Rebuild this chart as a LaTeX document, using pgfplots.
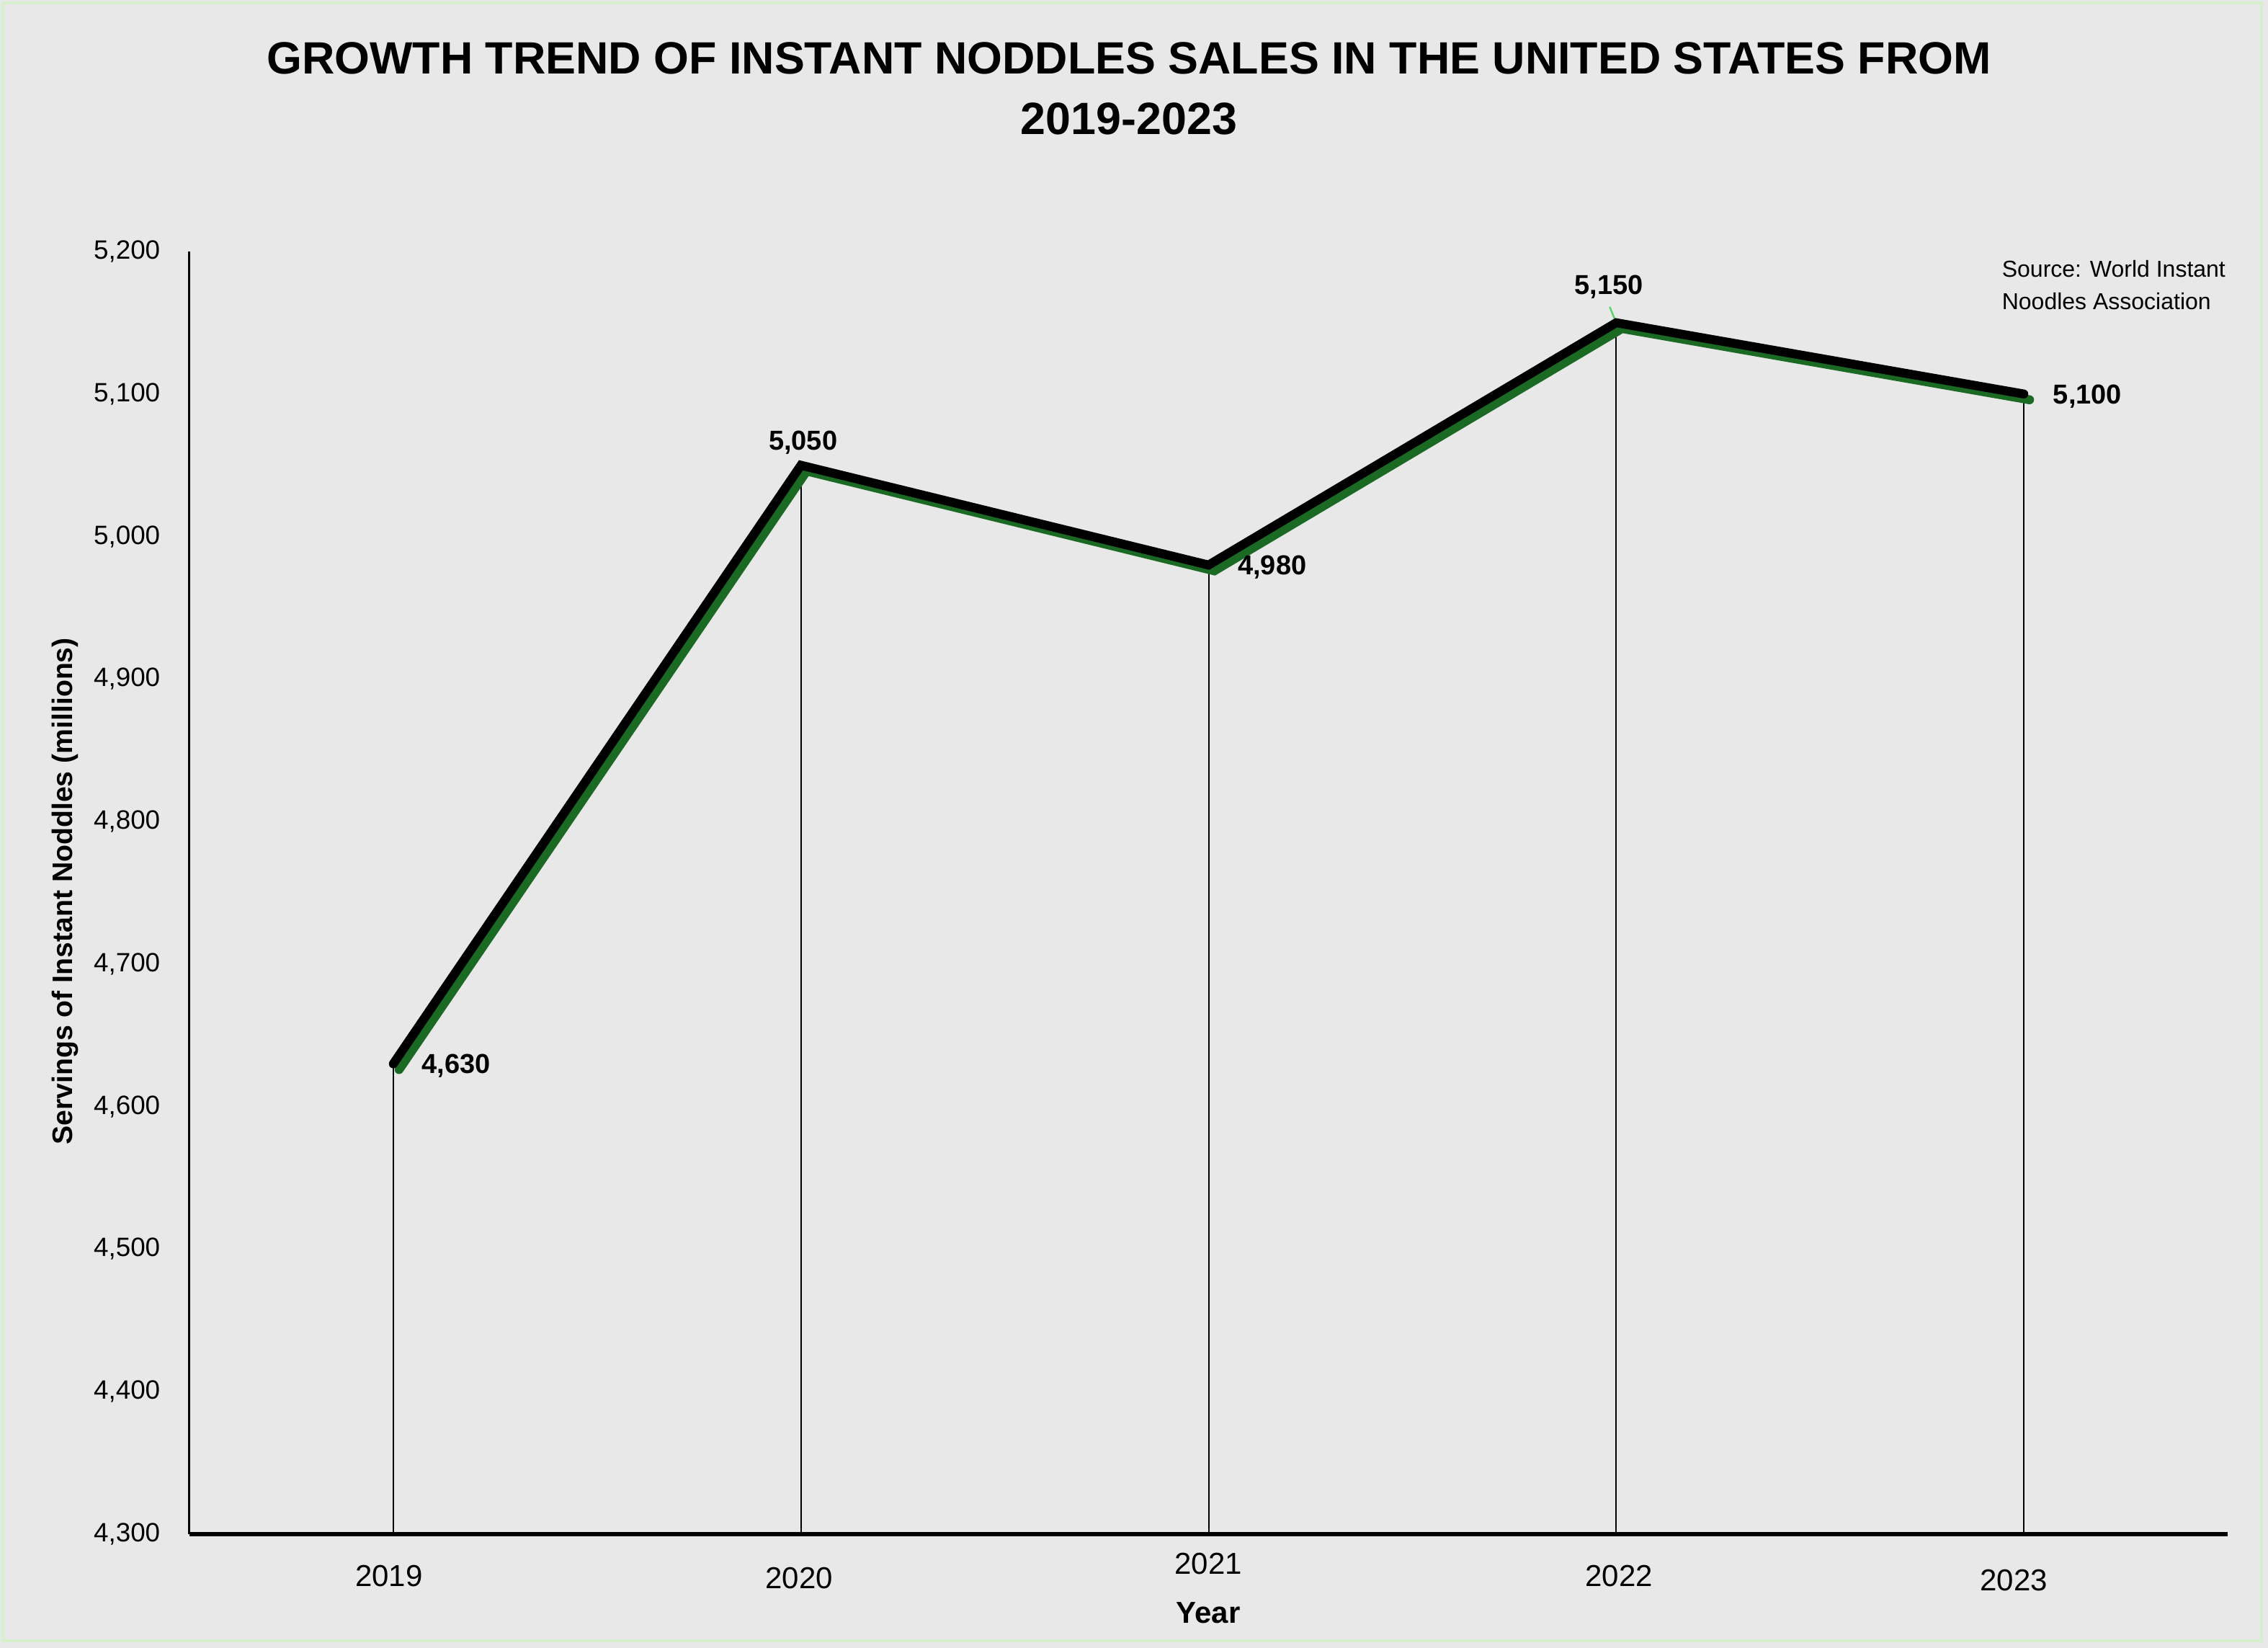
\documentclass[border=0pt]{standalone}
\usepackage{fontspec}
\setmainfont{Liberation Sans}
\usepackage{pgfplots}
\pgfplotsset{compat=1.18}
\definecolor{bg}{RGB}{232,232,232}
\definecolor{frame}{RGB}{214,240,205}
\definecolor{shadowgreen}{RGB}{26,106,36}
\definecolor{leader}{RGB}{90,210,100}
\newcommand\lbl{\fontsize{9.5}{11}\selectfont\bfseries}
\newcommand\xlbl{\fontsize{10.5}{12}\selectfont}
\begin{document}
\begin{tikzpicture}
\fill[bg] (0,0) rectangle (787pt,571.75pt);
\draw[frame, line width=1pt] (1pt,2.5pt) rectangle (784.75pt,570.75pt);
\begin{axis}[
  at={(65.75pt,39.5pt)}, anchor=south west,
  width=707.25pt, height=445pt, scale only axis,
  xmin=-0.5, xmax=4.5, ymin=4300, ymax=5200,
  axis x line=bottom, axis y line=left,
  x axis line style={-, line width=1.3pt},
  y axis line style={-, line width=0.75pt},
  xtick=\empty,
  ytick={4300,4400,...,5200},
  major tick length=0pt,
  yticklabel style={font=\fontsize{9.2}{11}\selectfont, anchor=east, inner sep=0pt, xshift=-10pt},
  /pgf/number format/1000 sep={,},
  /pgf/number format/assume math mode=true,
  clip=false,
]
\draw[leader, line width=0.6pt] (axis cs:3,5150) -- ++(-2.25pt,5.5pt);
\addplot[black, line width=0.5pt] coordinates {(0,4300) (0,4630)};
\addplot[black, line width=0.5pt] coordinates {(1,4300) (1,5050)};
\addplot[black, line width=0.5pt] coordinates {(2,4300) (2,4980)};
\addplot[black, line width=0.5pt] coordinates {(3,4300) (3,5150)};
\addplot[black, line width=0.5pt] coordinates {(4,4300) (4,5100)};
\addplot[shadowgreen, line width=3.1pt, line cap=round, transform canvas={xshift=2pt,yshift=-2pt}] coordinates {(0,4630) (1,5050) (2,4980) (3,5150) (4,5100)};
\addplot[black, line width=3.1pt, line cap=round] coordinates {(0,4630) (1,5050) (2,4980) (3,5150) (4,5100)};
\node[anchor=base west, font=\lbl, inner sep=0pt, xshift=9.75pt, yshift=-3.4pt] at (axis cs:0,4630) {4,630};
\node[anchor=base, font=\lbl, inner sep=0pt, xshift=0.75pt, yshift=5.35pt] at (axis cs:1,5050) {5,050};
\node[anchor=base west, font=\lbl, inner sep=0pt, xshift=10pt, yshift=-3.4pt] at (axis cs:2,4980) {4,980};
\node[anchor=base, font=\lbl, inner sep=0pt, xshift=-2.5pt, yshift=9.85pt] at (axis cs:3,5150) {5,150};
\node[anchor=base west, font=\lbl, inner sep=0pt, xshift=10pt, yshift=-3.4pt] at (axis cs:4,5100) {5,100};
\end{axis}
\node[anchor=center, inner sep=0pt, font=\xlbl] at (135pt,25pt) {2019};
\node[anchor=center, inner sep=0pt, font=\xlbl] at (277.25pt,24.25pt) {2020};
\node[anchor=center, inner sep=0pt, font=\xlbl] at (419.25pt,29.25pt) {2021};
\node[anchor=center, inner sep=0pt, font=\xlbl] at (561.75pt,25pt) {2022};
\node[anchor=center, inner sep=0pt, font=\xlbl] at (698.75pt,23.5pt) {2023};
\node[anchor=base, inner sep=0pt, font=\fontsize{10.5}{12}\selectfont\bfseries] at (419.25pt,8.5pt) {Year};
\node[rotate=90, inner sep=0pt, font=\fontsize{9.8}{12}\selectfont\bfseries] at (22.5pt,262.5pt) {Servings of Instant Noddles (millions)};
\node[anchor=base west, inner sep=0pt, font=\fontsize{8}{10}\selectfont] at (694.5pt,475.5pt) {Source: World Instant};
\node[anchor=base west, inner sep=0pt, font=\fontsize{8}{10}\selectfont] at (694.5pt,464.25pt) {Noodles Association};
\node[anchor=base, inner sep=0pt, font=\fontsize{15.7}{18}\selectfont\bfseries] at (391.75pt,546pt) {GROWTH TREND OF INSTANT NODDLES SALES IN THE UNITED STATES FROM};
\node[anchor=base, inner sep=0pt, font=\fontsize{15.7}{18}\selectfont\bfseries] at (391.75pt,525pt) {2019-2023};
\pgfresetboundingbox
\useasboundingbox (0,0) rectangle (787pt,571.75pt);
\end{tikzpicture}
\end{document}
